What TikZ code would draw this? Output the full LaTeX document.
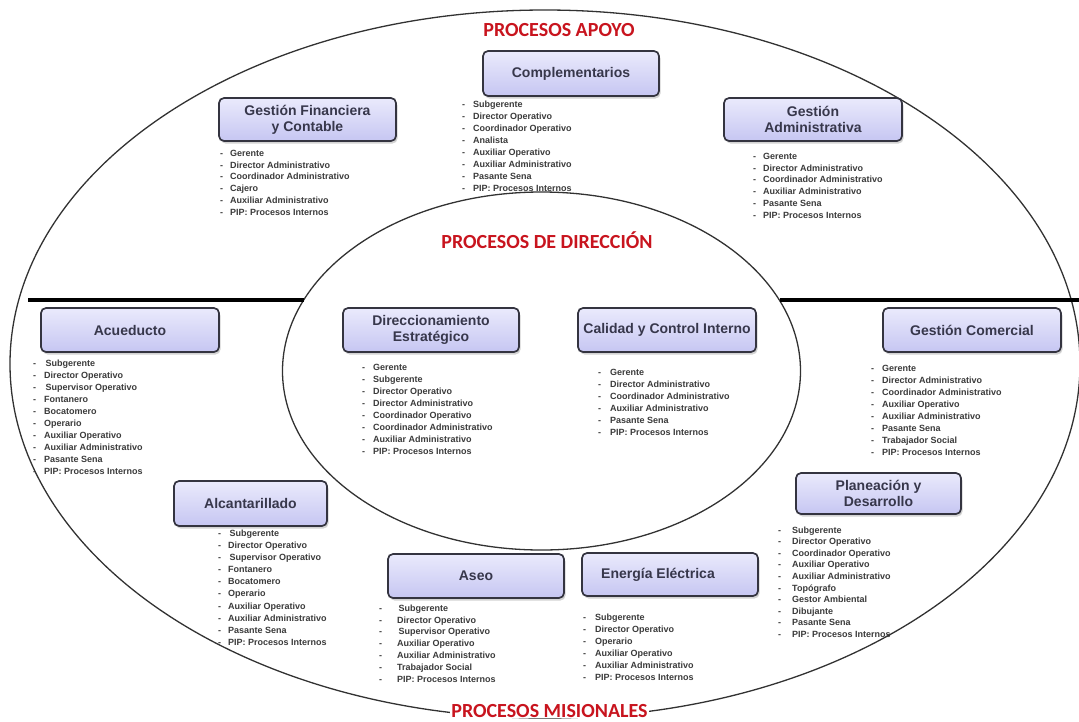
\documentclass[tikz,border=0pt]{standalone}
\usepackage{fontspec}
\setmainfont{Liberation Sans}
\newfontfamily\ttlfont{Carlito}
\usetikzlibrary{shadows}
\definecolor{boxtop}{RGB}{234,234,252}
\definecolor{boxbot}{RGB}{198,198,242}
\definecolor{boxline}{RGB}{52,52,64}
\definecolor{boxtext}{RGB}{55,55,75}
\definecolor{listtext}{RGB}{58,58,58}
\definecolor{redtitle}{RGB}{200,20,30}
\definecolor{ringcol}{RGB}{50,50,50}
\newlength\dg
\newcommand\li[1]{\strut\makebox[\dg][l]{-}#1}
\begin{document}
\begin{tikzpicture}[x=1pt,y=-1pt,
 procbox/.style={draw=boxline, line width=1.7pt, rounded corners=5pt,
   top color=boxtop, bottom color=boxbot,
   drop shadow={shadow xshift=1.5pt, shadow yshift=-2.5pt, opacity=0.35},
   font=\bfseries\fontsize{14}{16}\selectfont, text=boxtext, align=center, inner sep=2pt},
 plist/.style={anchor=north west, inner sep=0pt, align=left,
   font=\bfseries\fontsize{9}{12}\selectfont, text=listtext},
 dashgap/.code={\setlength\dg{#1}},
 ttl/.style={font=\ttlfont\bfseries\fontsize{20}{24}\selectfont, text=redtitle, inner sep=1pt},
 ring/.style={draw=ringcol, line width=1.3pt},
 divider/.style={line width=4.5pt, black}]
\useasboundingbox (0,0) rectangle (1079,721);
% rings
\draw[ring] (545,364) ellipse [x radius=535pt, y radius=354pt];
\draw[ring] (541.5,371) ellipse [x radius=259pt, y radius=179pt];
% dividers
\coordinate (dl1) at (28,300);
\coordinate (dl2) at (303.5,300);
\coordinate (dr1) at (779.5,300);
\coordinate (dr2) at (1079,300);
\draw[divider] (dl1) -- (dl2);
\draw[divider] (dr1) -- (dr2);
% titles
\node[ttl] (tapoyo) at (559,30) {PROCESOS APOYO};
\node[ttl] (tdir) at (547,240) {PROCESOS DE DIRECCIÓN};
\node[ttl, fill=white] (tmis) at (549.5,710.5) {PROCESOS MISIONALES};
% boxes
\node[procbox, minimum width=176pt, minimum height=45pt] (comp) at (571,73.5) {Complementarios};
\node[procbox, minimum width=177pt, minimum height=43pt] (gf) at (307.5,119.5) {Gestión Financiera\\y Contable};
\node[procbox, minimum width=178pt, minimum height=43pt] (ga) at (813,119.5) {Gestión\\Administrativa};
\node[procbox, minimum width=178pt, minimum height=44pt] (acu) at (130,330) {Acueducto};
\node[procbox, minimum width=176pt, minimum height=44pt] (de) at (431,330) {Direccionamiento\\Estratégico};
\node[procbox, minimum width=178pt, minimum height=44pt] (cci) at (667,330) {Calidad y Control Interno};
\node[procbox, minimum width=178pt, minimum height=44pt] (gc) at (972,330) {Gestión Comercial};
\node[procbox, minimum width=153pt, minimum height=45pt] (alc) at (250.5,503.5) {Alcantarillado};
\node[procbox, minimum width=165pt, minimum height=41pt] (plan) at (878.5,493.5) {Planeación y\\Desarrollo};
\node[procbox, minimum width=176pt, minimum height=44pt] (aseo) at (476,576) {Aseo};
\node[procbox, minimum width=176pt, minimum height=43pt] (ee) at (670,574.5) {Energía Eléctrica\hspace*{24pt}};
% lists
\node[plist, dashgap=10pt, font=\bfseries\fontsize{9}{11.8}\selectfont] (gfl) at (220,147.8)
 {\li{Gerente}\\\li{Director Administrativo}\\\li{Coordinador Administrativo}\\\li{Cajero}\\\li{Auxiliar Administrativo}\\\li{PIP: Procesos Internos}};
\node[plist, dashgap=11pt] (compl) at (462,98.8)
 {\li{Subgerente}\\\li{Director Operativo}\\\li{Coordinador Operativo}\\\li{Analista}\\\li{Auxiliar Operativo}\\\li{Auxiliar Administrativo}\\\li{Pasante Sena}\\\li{PIP: Procesos Internos}};
\node[plist, dashgap=10pt, font=\bfseries\fontsize{9}{11.8}\selectfont] (gal) at (753,150.8)
 {\li{Gerente}\\\li{Director Administrativo}\\\li{Coordinador Administrativo}\\\li{Auxiliar Administrativo}\\\li{Pasante Sena}\\\li{PIP: Procesos Internos}};
\node[plist, dashgap=11pt] (acul) at (33,357.8)
 {\li{\,Subgerente}\\\li{Director Operativo}\\\li{\,Supervisor Operativo}\\\li{Fontanero}\\\li{Bocatomero}\\\li{Operario}\\\li{Auxiliar Operativo}\\\li{Auxiliar Administrativo}\\\li{Pasante Sena}\\\li{PIP: Procesos Internos}};
\node[plist, dashgap=11pt] (del) at (362,361.8)
 {\li{Gerente}\\\li{Subgerente}\\\li{Director Operativo}\\\li{Director Administrativo}\\\li{Coordinador Operativo}\\\li{Coordinador Administrativo}\\\li{Auxiliar Administrativo}\\\li{PIP: Procesos Internos}};
\node[plist, dashgap=12pt] (ccil) at (598,366.8)
 {\li{Gerente}\\\li{Director Administrativo}\\\li{Coordinador Administrativo}\\\li{Auxiliar Administrativo}\\\li{Pasante Sena}\\\li{PIP: Procesos Internos}};
\node[plist, dashgap=11pt] (gcl) at (871,362.8)
 {\li{Gerente}\\\li{Director Administrativo}\\\li{Coordinador Administrativo}\\\li{Auxiliar Operativo}\\\li{Auxiliar Administrativo}\\\li{Pasante Sena}\\\li{Trabajador Social}\\\li{PIP: Procesos Internos}};
\node[plist, dashgap=10pt, font=\bfseries\fontsize{9}{12.1}\selectfont] (alcl) at (218,527.8)
 {\li{\,Subgerente}\\\li{Director Operativo}\\\li{\,Supervisor Operativo}\\\li{Fontanero}\\\li{Bocatomero}\\\li{Operario}\\\li{Auxiliar Operativo}\\\li{Auxiliar Administrativo}\\\li{Pasante Sena}\\\li{PIP: Procesos Internos}};
\node[plist, dashgap=14pt, font=\bfseries\fontsize{9}{11.6}\selectfont] (planl) at (778,524.8)
 {\li{Subgerente}\\\li{Director Operativo}\\\li{Coordinador Operativo}\\\li{Auxiliar Operativo}\\\li{Auxiliar Administrativo}\\\li{Topógrafo}\\\li{Gestor Ambiental}\\\li{Dibujante}\\\li{Pasante Sena}\\\li{PIP: Procesos Internos}};
\node[plist, dashgap=18pt, font=\bfseries\fontsize{9}{11.8}\selectfont] (aseol) at (379,602.8)
 {\li{\,Subgerente}\\\li{Director Operativo}\\\li{\,Supervisor Operativo}\\\li{Auxiliar Operativo}\\\li{Auxiliar Administrativo}\\\li{Trabajador Social}\\\li{PIP: Procesos Internos}};
\node[plist, dashgap=12pt] (eel) at (583,611.8)
 {\li{Subgerente}\\\li{Director Operativo}\\\li{Operario}\\\li{Auxiliar Operativo}\\\li{Auxiliar Administrativo}\\\li{PIP: Procesos Internos}};
\end{tikzpicture}
\end{document}
